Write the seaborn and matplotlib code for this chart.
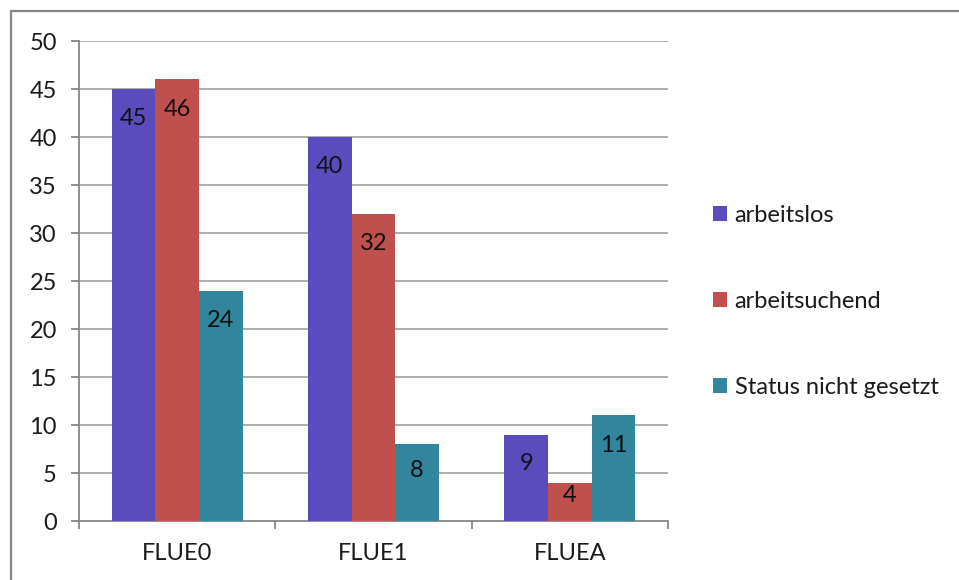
import matplotlib
matplotlib.use("Agg")
import matplotlib.pyplot as plt
from matplotlib.lines import Line2D
from matplotlib.patches import Patch
import numpy as np
import pandas as pd
import seaborn as sns

# Data
categories = ["FLUE0", "FLUE1", "FLUEA"]
series_names = ["arbeitslos", "arbeitsuchend", "Status nicht gesetzt"]
arbeitslos = [45, 40, 9]
arbeitsuchend = [46, 32, 4]
status_nicht_gesetzt = [24, 8, 11]
y_ticks = [0, 5, 10, 15, 20, 25, 30, 35, 40, 45, 50]

colors = ["#5B4CBE", "#C0504D", "#31859C"]

df = pd.DataFrame({
    "Kategorie": categories * 3,
    "Status": [s for s in series_names for _ in categories],
    "Anzahl": arbeitslos + arbeitsuchend + status_nicht_gesetzt,
})

sns.set_theme(style="white")
plt.rcParams["font.family"] = ["Lato", "DejaVu Sans"]

FS = 17
W, H = 959, 580
fig = plt.figure(figsize=(W / 100, H / 100), dpi=100)
ax = fig.add_axes([79 / W, 1 - 521 / H, (668 - 79) / W, (521 - 41) / H])

sns.barplot(data=df, x="Kategorie", y="Anzahl", hue="Status",
            hue_order=series_names, order=categories,
            palette=colors, width=2 / 3, gap=0, ax=ax,
            saturation=1, legend=False, zorder=3, linewidth=0)

ax.set_xlim(-0.5, 2.5)
ax.set_ylim(0, 50)
ax.set_yticks(y_ticks)
ax.set_xlabel("")
ax.set_ylabel("")

grid_c = "#A6A6A6"
axis_c = "#868686"
for y in y_ticks[1:]:
    ax.axhline(y, color=grid_c, lw=1.3, zorder=1)

for side in ["top", "right"]:
    ax.spines[side].set_visible(False)
for side in ["left", "bottom"]:
    ax.spines[side].set_color(axis_c)
    ax.spines[side].set_linewidth(1.3)

# category boundary ticks (major), labels at centres (minor)
ax.set_xticks([-0.5, 0.5, 1.5, 2.5])
ax.set_xticklabels([])
ax.set_xticks([0, 1, 2], minor=True)
ax.set_xticklabels(categories, minor=True)
ax.tick_params(axis="x", which="major", length=6, width=1.3, color=axis_c, direction="out", bottom=True)
ax.tick_params(axis="x", which="minor", length=0, pad=16, labelsize=FS, labelcolor="#1a1a1a")
ax.tick_params(axis="y", length=6, width=1.3, color=axis_c, direction="out", left=True,
               pad=10, labelsize=FS, labelcolor="#1a1a1a")

# value labels just inside the top of each bar
values = [arbeitslos, arbeitsuchend, status_nicht_gesetzt]
for container, vals in zip(ax.containers, values):
    for bar, v in zip(container, vals):
        cx = bar.get_x() + bar.get_width() / 2
        ly = v - min(3.1, 0.34 * v)
        ax.text(cx, ly, str(v), ha="center", va="center", fontsize=FS,
                color="#111111", zorder=5)

# legend
handles = [Patch(facecolor=c, edgecolor="none") for c in colors]
fig.legend(handles, series_names, loc="upper left",
           bbox_to_anchor=(701 / W, 1 - 193 / H), frameon=False,
           fontsize=FS, handlelength=0.62, handleheight=0.62,
           handletextpad=0.3, labelspacing=2.75, borderpad=0,
           labelcolor="#1a1a1a")

# outer chart frame (left and top edges)
fig.add_artist(Line2D([10.5 / W, 10.5 / W], [0, 1 - 11 / H], color=axis_c, lw=1.6,
                      transform=fig.transFigure))
fig.add_artist(Line2D([10.5 / W, 1], [1 - 11 / H, 1 - 11 / H], color=axis_c, lw=1.6,
                      transform=fig.transFigure))

fig.savefig("out.png", dpi=100)
